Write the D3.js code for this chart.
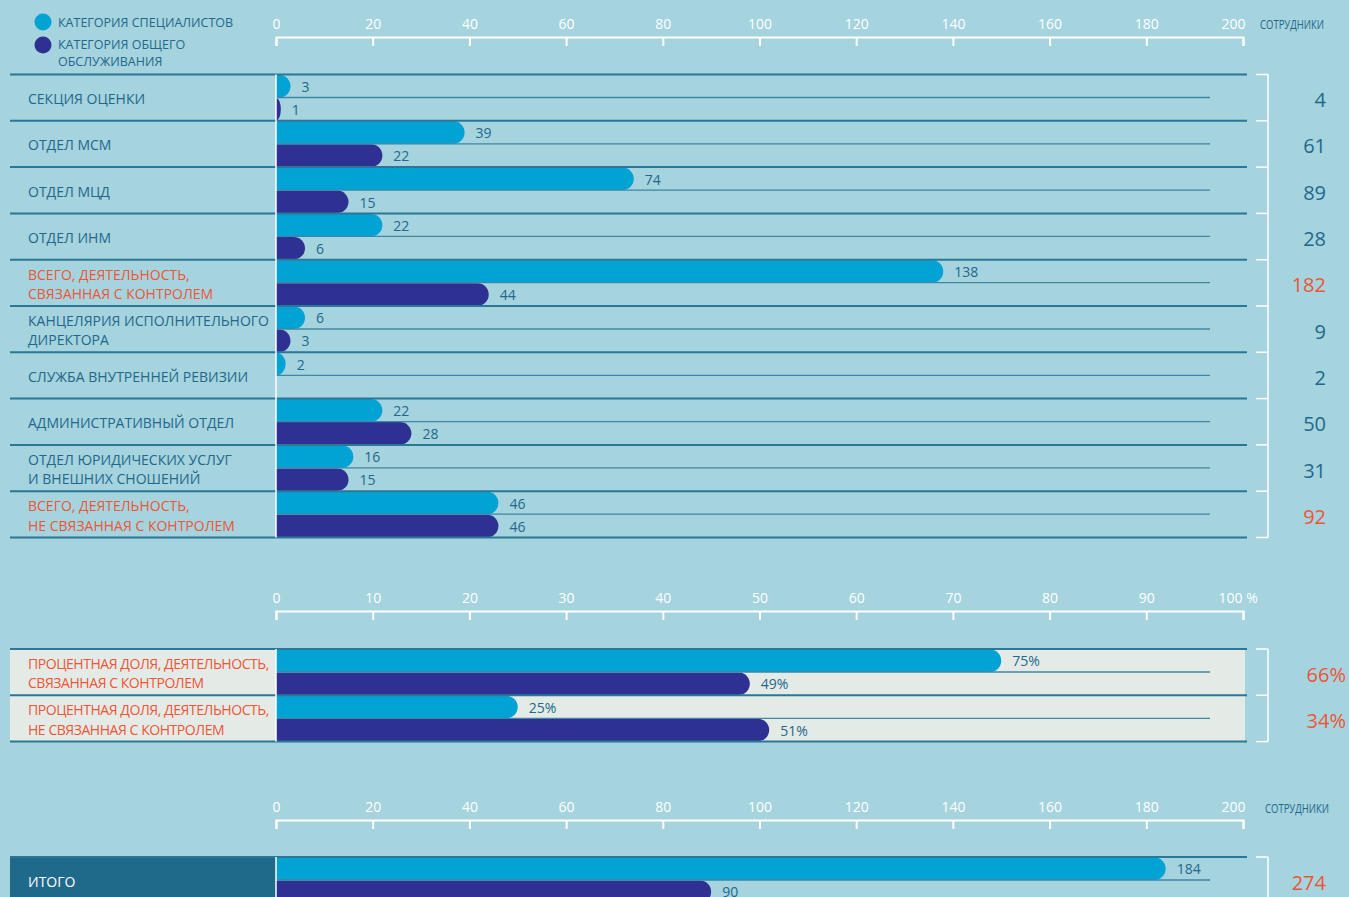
<!DOCTYPE html>
<html lang="ru">
<head>
<meta charset="utf-8">
<script src="https://cdn.jsdelivr.net/npm/d3@7/dist/d3.min.js"></script>
<style>
  html, body { margin: 0; padding: 0; background: #a5d3de; }
  svg { display: block; font-family: "Open Sans", "Noto Sans", sans-serif; }
</style>
</head>
<body>
<svg id="chart" width="1349" height="897"></svg>
<script>
// Staff by unit: specialist vs general-service categories
const categories = [
  "СЕКЦИЯ ОЦЕНКИ",
  "ОТДЕЛ МСМ",
  "ОТДЕЛ МЦД",
  "ОТДЕЛ ИНМ",
  "ВСЕГО, ДЕЯТЕЛЬНОСТЬ,\nСВЯЗАННАЯ С КОНТРОЛЕМ",
  "КАНЦЕЛЯРИЯ ИСПОЛНИТЕЛЬНОГО\nДИРЕКТОРА",
  "СЛУЖБА ВНУТРЕННЕЙ РЕВИЗИИ",
  "АДМИНИСТРАТИВНЫЙ ОТДЕЛ",
  "ОТДЕЛ ЮРИДИЧЕСКИХ УСЛУГ\nИ ВНЕШНИХ СНОШЕНИЙ",
  "ВСЕГО, ДЕЯТЕЛЬНОСТЬ,\nНЕ СВЯЗАННАЯ С КОНТРОЛЕМ"
];
const specialists = [3, 39, 74, 22, 138, 6, 2, 22, 16, 46];
const generalService = [1, 22, 15, 6, 44, 3, null, 28, 15, 46];
const totals = [4, 61, 89, 28, 182, 9, 2, 50, 31, 92];
const summaryRows = [
  "ВСЕГО, ДЕЯТЕЛЬНОСТЬ,\nСВЯЗАННАЯ С КОНТРОЛЕМ",
  "ВСЕГО, ДЕЯТЕЛЬНОСТЬ,\nНЕ СВЯЗАННАЯ С КОНТРОЛЕМ"
];

// Percentage shares
const shareCategories = [
  "ПРОЦЕНТНАЯ ДОЛЯ, ДЕЯТЕЛЬНОСТЬ,\nСВЯЗАННАЯ С КОНТРОЛЕМ",
  "ПРОЦЕНТНАЯ ДОЛЯ, ДЕЯТЕЛЬНОСТЬ,\nНЕ СВЯЗАННАЯ С КОНТРОЛЕМ"
];
const shareSpecialists = [75, 25];
const shareGeneral = [49, 51];
const shareTotals = ["66%", "34%"];

// Grand total
const grandCategory = "ИТОГО";
const grandSpecialists = 184;
const grandGeneral = 90;
const grandTotal = 274;

const legendLabels = ["КАТЕГОРИЯ СПЕЦИАЛИСТОВ", "КАТЕГОРИЯ ОБЩЕГО\nОБСЛУЖИВАНИЯ"];
const unitLabel = "СОТРУДНИКИ";

const C = {
  cyan: "#00a3d4",
  navy: "#2e3192",
  text: "#23688c",
  red: "#ef5536",
  line: "#2b7797",
  midLine: "#3f87a4",
  white: "#ffffff",
  shareBg: "#e4ebe6",
  grandBg: "#1f6a8b"
};

const svg = d3.select("#chart");
const X0 = 276, X1 = 1243;
const LEFT = 10, LINE_END = 1247, MID_END = 1210, BRACKET_X = 1268;
const ROW_H = 46.3;

const xCount = d3.scaleLinear().domain([0, 200]).range([X0, X1]);
const xPct = d3.scaleLinear().domain([0, 100]).range([X0, X1]);

function barPath(x0, x1, y, h) {
  const w = x1 - x0, r = h / 2;
  if (w <= 0) return null;
  if (w <= r) return `M${x0},${y}A${w},${r} 0 0 1 ${x0},${y + h}Z`;
  return `M${x0},${y}H${x1 - r}A${r},${r} 0 0 1 ${x1 - r},${y + h}H${x0}Z`;
}

function multiline(sel, text, x, cy, lh) {
  const lines = text.split("\n");
  const t = sel.append("text").attr("x", x);
  lines.forEach((ln, i) => {
    t.append("tspan").attr("x", x)
      .attr("y", cy + (i - (lines.length - 1) / 2) * lh)
      .attr("dy", "0.35em").text(ln);
  });
  return t;
}

function drawAxis(scale, y, ticks, fmt) {
  const g = svg.append("g").attr("transform", `translate(0,${y})`)
    .call(d3.axisTop(scale).tickValues(ticks).tickFormat(fmt)
      .tickSizeInner(-9).tickSizeOuter(-9).tickPadding(8));
  g.select(".domain").attr("stroke", C.white).attr("stroke-width", 2);
  g.selectAll(".tick line").attr("stroke", C.white).attr("stroke-width", 2);
  g.selectAll(".tick text").attr("fill", C.white).attr("font-size", 14)
    .attr("font-family", "'Open Sans', sans-serif");
  const last = g.selectAll(".tick text").filter((d, i, n) => i === n.length - 1);
  last.attr("text-anchor", "end").attr("dx", 2);
  return g;
}

// Legend
const legend = svg.append("g");
[C.cyan, C.navy].forEach((col, i) => {
  const cy = i === 0 ? 22 : 45;
  legend.append("circle").attr("cx", 43).attr("cy", cy).attr("r", 8.5).attr("fill", col);
  legend.append("g").attr("fill", C.text).attr("font-size", 12.5)
    .call(s => multiline(s, legendLabels[i], 58, i === 0 ? 23 : 53.5, 17));
});

// Axes
drawAxis(xCount, 37, d3.range(0, 201, 20), d3.format("d"));
svg.append("text").attr("x", 1260).attr("y", 29).attr("fill", C.text)
  .attr("font-size", 13).attr("textLength", 64).attr("lengthAdjust", "spacingAndGlyphs")
  .text(unitLabel);

const pctAxis = drawAxis(xPct, 611, d3.range(0, 101, 10), d => d === 100 ? "100 %" : d);
pctAxis.selectAll(".tick text").filter(d => d === 100).attr("text-anchor", "start").attr("dx", -25);

drawAxis(xCount, 820, d3.range(0, 201, 20), d3.format("d"));
svg.append("text").attr("x", 1265).attr("y", 813).attr("fill", C.text)
  .attr("font-size", 13).attr("textLength", 64).attr("lengthAdjust", "spacingAndGlyphs")
  .text(unitLabel);

// Generic block of paired bars
function drawBlock(opts) {
  const { top, labels, a, b, totalsTxt, scale, fmt, labelColor, totalColor, bgLabel, bgRows, extraHeight } = opts;
  const n = labels.length;
  const yRow = i => top + i * ROW_H;
  const g = svg.append("g");
  const bottom = top + n * ROW_H;

  if (bgRows) {
    g.append("rect").attr("x", LEFT).attr("y", top).attr("width", X1 + 2 - LEFT)
      .attr("height", bottom - top).attr("fill", bgRows);
  }
  if (bgLabel) {
    g.append("rect").attr("x", LEFT).attr("y", top).attr("width", X0 - LEFT)
      .attr("height", (extraHeight || bottom - top)).attr("fill", bgLabel);
  }

  labels.forEach((lab, i) => {
    const y = yRow(i);
    const h = 22.5;
    const pA = barPath(X0, scale(a[i]), y + 0.5, h);
    if (pA) g.append("path").attr("d", pA).attr("fill", C.cyan);
    if (b[i] != null) {
      const pB = barPath(X0, scale(b[i]), y + 23.5, h);
      if (pB) g.append("path").attr("d", pB).attr("fill", C.navy);
    }
    // middle rule between the two bars
    g.append("line").attr("x1", X0).attr("x2", MID_END)
      .attr("y1", y + 23).attr("y2", y + 23)
      .attr("stroke", C.midLine).attr("stroke-width", 1.3);
  });

  // row rules
  d3.range(n + 1).forEach(i => {
    if (extraHeight && i === n) return;
    g.append("line").attr("x1", LEFT).attr("x2", LINE_END)
      .attr("y1", yRow(i)).attr("y2", yRow(i))
      .attr("stroke", C.line).attr("stroke-width", 2);
  });

  labels.forEach((lab, i) => {
    const y = yRow(i);
    // value labels
    g.append("text").attr("x", scale(a[i]) + 11).attr("y", y + 12.5).attr("dy", "0.35em")
      .attr("fill", C.text).attr("font-size", 14).text(fmt(a[i]));
    if (b[i] != null) {
      g.append("text").attr("x", scale(b[i]) + 11).attr("y", y + 35.5).attr("dy", "0.35em")
        .attr("fill", C.text).attr("font-size", 14).text(fmt(b[i]));
    }
    // category label
    g.append("g").attr("fill", labelColor(lab)).attr("font-size", 14)
      .attr("letter-spacing", opts.labelSpacing || 0)
      .call(s => multiline(s, lab, 28, y + ROW_H / 2 + 1.5, 19.5));
    // total
    g.append("text").attr("x", opts.totalX).attr("y", y + ROW_H / 2 + 2.5).attr("dy", "0.35em")
      .attr("text-anchor", "end").attr("fill", totalColor(lab)).attr("font-size", 20)
      .text(totalsTxt[i]);
  });

  // zero line
  g.append("line").attr("x1", X0).attr("x2", X0).attr("y1", top).attr("y2", extraHeight ? top + extraHeight : bottom)
    .attr("stroke", C.white).attr("stroke-width", 1.5);

  // right bracket
  const bEnd = extraHeight ? top + extraHeight : bottom;
  g.append("line").attr("x1", BRACKET_X).attr("x2", BRACKET_X).attr("y1", top).attr("y2", bEnd)
    .attr("stroke", C.white).attr("stroke-width", 1.5);
  d3.range(n + 1).forEach(i => {
    if (extraHeight && i === n) return;
    g.append("line").attr("x1", BRACKET_X - 12).attr("x2", BRACKET_X)
      .attr("y1", yRow(i)).attr("y2", yRow(i))
      .attr("stroke", C.white).attr("stroke-width", 1.5);
  });
  return g;
}

drawBlock({
  top: 74.5, labels: categories, a: specialists, b: generalService, totalsTxt: totals,
  scale: xCount, fmt: d3.format("d"),
  labelColor: l => summaryRows.includes(l) ? C.red : C.text,
  totalColor: l => summaryRows.includes(l) ? C.red : C.text,
  totalX: 1326
});

drawBlock({
  top: 649, labels: shareCategories, a: shareSpecialists, b: shareGeneral, totalsTxt: shareTotals,
  scale: xPct, fmt: d => d + "%",
  labelColor: () => C.red, totalColor: () => C.red,
  bgRows: C.shareBg, labelSpacing: -0.45,
  totalX: 1346
});

drawBlock({
  top: 857, labels: [grandCategory], a: [grandSpecialists], b: [grandGeneral], totalsTxt: [grandTotal],
  scale: xCount, fmt: d3.format("d"),
  labelColor: () => C.white, totalColor: () => C.red,
  bgLabel: C.grandBg, extraHeight: 60,
  totalX: 1326
});
</script>
</body>
</html>
